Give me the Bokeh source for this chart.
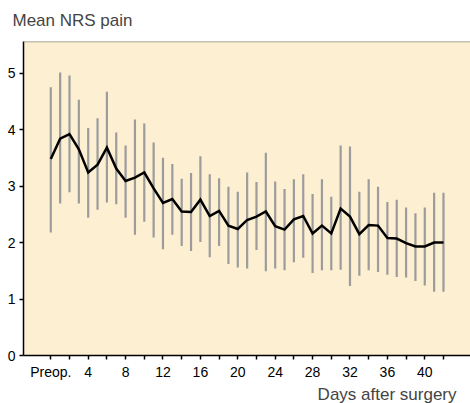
from bokeh.plotting import figure
from bokeh.models import Range1d, Span, Title, FixedTicker
from bokeh.embed import file_html
from bokeh.resources import INLINE

days = list(range(0, 43))
mean_nrs = [3.48, 3.84, 3.92, 3.65, 3.24, 3.38, 3.68, 3.31, 3.09, 3.15,
            3.24, 2.96, 2.70, 2.77, 2.55, 2.54, 2.76, 2.47, 2.56, 2.30,
            2.24, 2.40, 2.46, 2.55, 2.29, 2.23, 2.41, 2.47, 2.16, 2.30,
            2.16, 2.60, 2.46, 2.15, 2.31, 2.30, 2.08, 2.07, 1.99, 1.93,
            1.93, 2.00, 2.00]
upper = [4.75, 5.01, 4.96, 4.53, 4.03, 4.20, 4.67, 3.95, 3.72, 4.18,
         4.11, 3.77, 3.50, 3.39, 3.13, 3.23, 3.53, 3.21, 3.14, 2.99,
         2.90, 3.24, 3.07, 3.59, 3.08, 2.95, 3.12, 3.21, 2.86, 3.12,
         2.81, 3.72, 3.70, 2.90, 3.12, 2.99, 2.72, 2.76, 2.62, 2.52,
         2.62, 2.88, 2.88]
lower = [2.18, 2.69, 2.89, 2.69, 2.44, 2.58, 2.71, 2.68, 2.44, 2.14,
         2.37, 2.09, 1.88, 2.14, 1.94, 1.85, 2.01, 1.74, 1.94, 1.62,
         1.56, 1.54, 1.87, 1.49, 1.54, 1.51, 1.65, 1.73, 1.46, 1.51,
         1.51, 1.52, 1.23, 1.41, 1.51, 1.48, 1.43, 1.39, 1.38, 1.32,
         1.24, 1.13, 1.13]

x_ticks = list(range(0, 43, 2))
x_labels = {t: ("Preop." if t == 0 else (str(t) if t % 4 == 0 else "")) for t in x_ticks}
y_ticks = [0, 1, 2, 3, 4, 5]
y_title = "Mean NRS pain"
x_title = "Days after surgery"

Y_END = 5.56
FONT = "Liberation Sans"

p = figure(width=470, height=403, output_backend="svg", toolbar_location=None,
           x_range=Range1d(-2.92, 44.89), y_range=Range1d(0, Y_END),
           min_border_left=23, min_border_right=0, min_border_top=41,
           min_border_bottom=48)

p.background_fill_color = "#FDEFD2"
p.border_fill_color = "white"
p.outline_line_color = None
p.grid.visible = False

p.title.text = y_title
p.title.text_font = FONT
p.title.text_font_size = "17px"
p.title.text_font_style = "normal"
p.title.align = "left"
p.title.offset = -11
p.title.vertical_align = "top"
p.title.standoff = 20

p.segment(x0=days, y0=lower, x1=days, y1=upper, line_color="#9c9c9c", line_width=2.2)
p.line(days, mean_nrs, line_color="black", line_width=2.5, line_join="miter")

p.add_layout(Span(location=Y_END, dimension="width", line_color="#8a8a8a", line_width=1.5))

for ax in (p.xaxis[0], p.yaxis[0]):
    ax.axis_line_color = "black"
    ax.axis_line_width = 1.5
    ax.major_tick_line_color = "black"
    ax.major_tick_line_width = 1.5
    ax.major_tick_out = 4
    ax.major_tick_in = 0
    ax.minor_tick_line_color = None
    ax.major_label_text_font = FONT
    ax.major_label_text_font_size = "14px"
    ax.major_label_text_color = "black"

p.xaxis[0].ticker = FixedTicker(ticks=x_ticks)
p.xaxis[0].major_label_overrides = x_labels
p.xaxis[0].major_label_standoff = 4
p.yaxis[0].ticker = FixedTicker(ticks=y_ticks)
p.yaxis[0].major_label_standoff = 4

xt = Title(text=x_title, align="right", offset=14, standoff=0,
           vertical_align="bottom",
           text_font=FONT, text_font_size="17px", text_font_style="normal")
p.add_layout(xt, "below")

open("out.html", "w").write(file_html(p, INLINE))
